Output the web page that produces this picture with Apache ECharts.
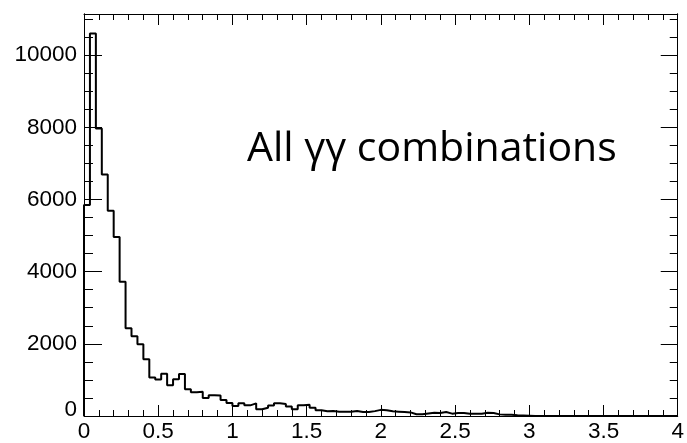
<!DOCTYPE html>
<html><head><meta charset="utf-8">
<script src="https://cdn.jsdelivr.net/npm/echarts@6/dist/echarts.min.js"></script>
<style>html,body{margin:0;padding:0;background:#fff}#c{width:687px;height:443px}</style>
</head><body><div id="c"></div>
<script>
// ---- data ----
const binStart = 0;
const binWidth = 0.04;
const counts = [
  5850, 10600, 7970, 6690, 5690, 4960, 3720, 2430, 2210, 1990,
  1570, 1070, 1010, 1170, 850, 1020, 1165, 740, 660, 670,
  500, 575, 565, 445, 360, 280, 355, 295, 350, 185,
  230, 290, 355, 335, 265, 185, 295, 310, 230, 160,
  130, 140, 115, 120, 115, 140, 110, 110, 135, 170,
  160, 130, 120, 110, 100, 50, 50, 70, 90, 85,
  110, 65, 85, 80, 65, 65, 65, 90, 85, 45,
  35, 35, 20, 15, 10, 0, 0, 0, 0, 0,
  0, 0, 0, 0, 0, 0, 0, 0, 0, 0,
  0, 0, 0, 0, 0, 0, 0, 0, 0, 0
];
const xTickValues = [0, 0.5, 1, 1.5, 2, 2.5, 3, 3.5, 4];
const xTickLabels = ['0', '0.5', '1', '1.5', '2', '2.5', '3', '3.5', '4'];
const yTickValues = [0, 2000, 4000, 6000, 8000, 10000];
const yTickLabels = ['0', '2000', '4000', '6000', '8000', '10000'];
const annotation = 'All \u03b3\u03b3 combinations';
const xMin = 0, xMax = 4, yMin = 0, yMax = 11140;

// ---- build step points (bin left edges) ----
const steps = [[binStart, 0]];
counts.forEach((v, i) => steps.push([+(binStart + i * binWidth).toFixed(4), v]));
steps.push([+(binStart + counts.length * binWidth).toFixed(4), counts[counts.length - 1]]);

const black = '#000';
const labelFont = { fontFamily: 'Liberation Sans', fontSize: 22.5, color: black };

function xLabel(v) {
  for (let i = 0; i < xTickValues.length; i++) if (Math.abs(v - xTickValues[i]) < 1e-6) return xTickLabels[i];
  return '';
}
function yLabel(v) {
  for (let i = 0; i < yTickValues.length; i++) if (Math.abs(v - yTickValues[i]) < 1e-6) {
    return i === 0 ? '{z|' + yTickLabels[i] + '}' : yTickLabels[i];
  }
  return '';
}

const baseX = {
  type: 'value', min: xMin, max: xMax, interval: 0.5,
  axisLine: { show: true, onZero: false, lineStyle: { color: black, width: 1 } },
  axisTick: { show: true, inside: true, length: 11, lineStyle: { color: black, width: 1 } },
  minorTick: { show: true, splitNumber: 5, length: 6, lineStyle: { color: black, width: 1 } },
  splitLine: { show: false }, minorSplitLine: { show: false }
};
const baseY = (pos, interval, len, labels) => ({
  type: 'value', min: yMin, max: yMax, interval: interval, position: pos, offset: 0,
  axisLine: { show: true, onZero: false, lineStyle: { color: black, width: 1 } },
  axisTick: { show: true, inside: true, length: len, lineStyle: { color: black, width: 1 } },
  axisLabel: labels ? Object.assign({ show: true, margin: 7, formatter: yLabel, showMaxLabel: false,
      rich: { z: { fontFamily: 'Liberation Sans', fontSize: 22.5, color: black, padding: [0, 0, 12, 0] } } }, labelFont) : { show: false },
  splitLine: { show: false }
});

const chart = echarts.init(document.getElementById('c'), null, { renderer: 'canvas' });
chart.setOption({
  animation: false,
  backgroundColor: '#fff',
  grid: { left: 84, right: 6, top: 14, bottom: 24, containLabel: false },
  xAxis: [
    Object.assign({}, baseX, { position: 'bottom',
      axisLabel: Object.assign({ show: true, margin: 4, formatter: xLabel, showMinLabel: true, showMaxLabel: true }, labelFont) }),
    Object.assign({}, baseX, { position: 'top', axisLabel: { show: false } })
  ],
  yAxis: [
    baseY('left', 2000, 18, true),
    baseY('left', 500, 9, false),
    baseY('right', 2000, 17, false),
    baseY('right', 500, 8, false)
  ],
  series: [{
    type: 'line', xAxisIndex: 0, yAxisIndex: 0, step: 'end',
    data: steps, showSymbol: false, symbol: 'none',
    lineStyle: { color: black, width: 2 }, z: 5
  }],
  graphic: [{
    type: 'text', x: 247, y: 149,
    style: { text: annotation, font: '41px "Open Sans"', fill: black, verticalAlign: 'middle', align: 'left' }
  }]
});
</script>
</body></html>
